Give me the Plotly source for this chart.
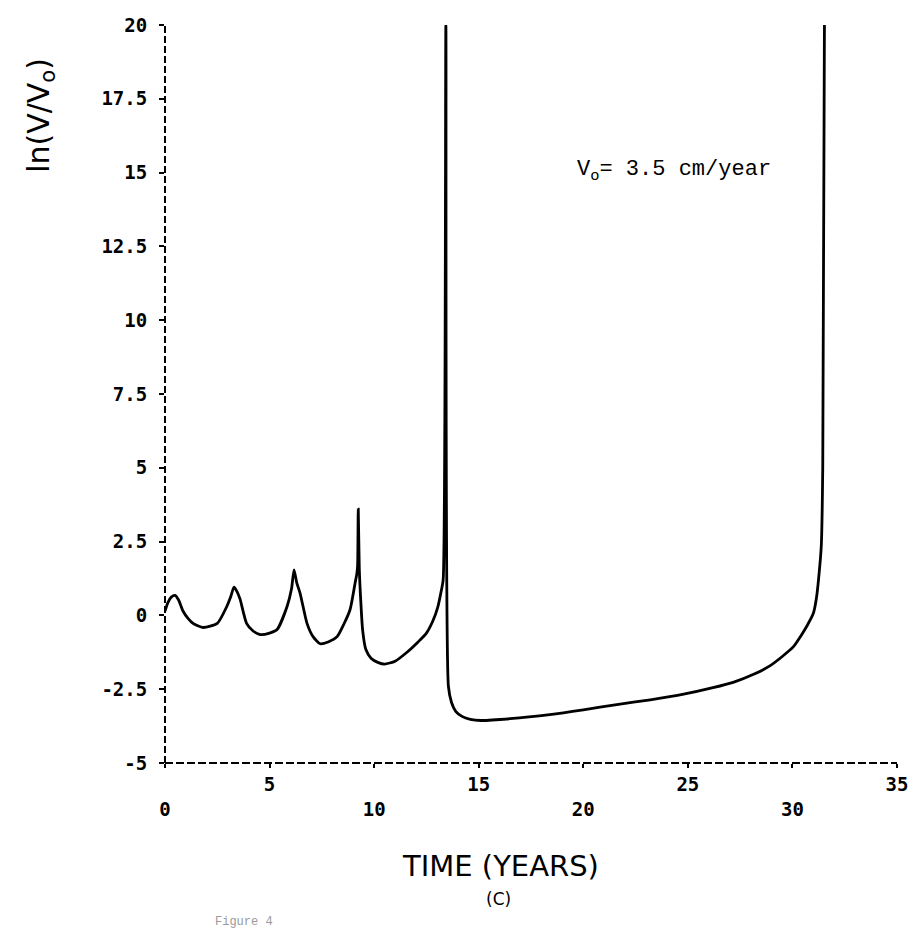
import plotly.graph_objects as go

# ---- data ----
time_years = [0, 0.15, 0.3, 0.48, 0.65, 0.86, 1.1, 1.34, 1.82, 2.5, 2.96, 3.15, 3.3, 3.45, 3.59, 3.9,
              4.2, 4.55, 5.0, 5.36, 5.84, 6.05, 6.17, 6.3, 6.46, 6.79, 7.08, 7.42, 7.8, 8.23, 8.55,
              8.85, 9.09, 9.17, 9.21, 9.24, 9.29, 9.36, 9.45, 9.6, 9.85, 10.2, 10.5, 11.0, 11.6,
              12.1, 12.5, 12.8, 13.05, 13.2, 13.3, 13.43, 13.55, 13.7, 13.9, 14.2, 14.6,
              15.1, 16.5, 18.4, 20.0, 21.6, 23.2, 24.8, 26.2, 27.2, 28.2, 28.9, 29.5, 30.05,
              30.38, 30.7, 31.0, 31.15, 31.25, 31.38, 31.45, 31.53]
ln_v_ratio = [0.15, 0.45, 0.62, 0.68, 0.52, 0.15, -0.1, -0.27, -0.41, -0.27, 0.31, 0.65, 0.96, 0.8,
              0.55, -0.27, -0.52, -0.65, -0.6, -0.48, 0.31, 0.9, 1.54, 1.1, 0.75, -0.27, -0.72,
              -0.96, -0.9, -0.72, -0.3, 0.2, 1.1, 1.4, 1.7, 3.6, 1.6, 0.5, -0.5, -1.15, -1.45, -1.6,
              -1.65, -1.55, -1.23, -0.9, -0.6, -0.2, 0.3, 0.8, 1.2, 20, -2.4, -2.95, -3.25,
              -3.42, -3.52, -3.56, -3.5, -3.36, -3.2, -3.02, -2.86, -2.67, -2.45, -2.26, -1.98,
              -1.72, -1.4, -1.06, -0.72, -0.35, 0.07, 0.6, 1.23, 2.36, 5.0, 20]

x_tick_vals = [0, 5, 10, 15, 20, 25, 30, 35]
x_tick_labels = ["0", "5", "10", "15", "20", "25", "30", "35"]
y_tick_vals = [20, 17.5, 15, 12.5, 10, 7.5, 5, 2.5, 0, -2.5, -5]
y_tick_labels = ["20", "17.5", "15", "12.5", "10", "7.5", "5", "2.5", "0", "-2.5", "-5"]

x_title = "TIME (YEARS)"
y_title = "ln(V/V<sub>o</sub>)"
panel_label = "(C)"
note_text = "V<sub>o</sub>= 3.5 cm/year"
caption_text = "Figure 4"

# staggered x tick labels: multiples of 10 on a second row
x_tick_text = [("<br>" + t) if (v % 10 == 0) else t for v, t in zip(x_tick_vals, x_tick_labels)]

tick_font = dict(family="DejaVu Sans Mono", size=19, color="black", weight="bold")

fig = go.Figure()
fig.add_trace(go.Scatter(
    x=time_years, y=ln_v_ratio, mode="lines",
    line=dict(color="black", width=2.8, shape="spline", smoothing=0.6),
    showlegend=False, hoverinfo="skip",
))

fig.update_layout(
    width=919, height=938,
    margin=dict(l=165, r=22, t=25, b=175),
    paper_bgcolor="white", plot_bgcolor="white",
    xaxis=dict(range=[0, 35], tickmode="array", tickvals=x_tick_vals, ticktext=x_tick_text,
               showgrid=False, zeroline=False, showline=False,
               ticks="outside", ticklen=4, tickwidth=1.5, tickcolor="black",
               tickfont=tick_font, ticklabelstandoff=0),
    yaxis=dict(range=[-5, 20], tickmode="array", tickvals=y_tick_vals, ticktext=y_tick_labels,
               showgrid=False, zeroline=False, showline=False,
               ticks="outside", ticklen=5, tickwidth=1.5, tickcolor="black",
               tickfont=tick_font, ticklabelstandoff=8),
    shapes=[
        dict(type="line", xref="x domain", yref="y domain", x0=0, x1=0, y0=0, y1=1,
             line=dict(color="black", width=2, dash="7px,3px")),
        dict(type="line", xref="x domain", yref="y domain", x0=0, x1=1, y0=0, y1=0,
             line=dict(color="black", width=2, dash="8px,3px")),
    ],
    annotations=[
        dict(text=y_title, xref="paper", yref="paper", x=-0.171, y=0.878,
             xanchor="center", yanchor="middle", textangle=-90, showarrow=False,
             font=dict(family="DejaVu Sans", size=30, color="black")),
        dict(text=x_title, xref="paper", yref="paper", x=0.458, y=-0.1396,
             xanchor="center", yanchor="middle", showarrow=False,
             font=dict(family="DejaVu Sans", size=29, color="black")),
        dict(text=panel_label, xref="paper", yref="paper", x=0.455, y=-0.184,
             xanchor="center", yanchor="middle", showarrow=False,
             font=dict(family="DejaVu Sans", size=17, color="black")),
        dict(text=note_text, xref="paper", yref="paper", x=0.56, y=0.802,
             xanchor="left", yanchor="middle", showarrow=False,
             font=dict(family="Liberation Mono", size=22, color="black")),
        dict(text=caption_text, xref="paper", yref="paper", x=0.0656, y=-0.203,
             xanchor="left", yanchor="top", showarrow=False,
             font=dict(family="Liberation Mono", size=12, color="#9a9a9a")),
    ],
)

fig.write_html("out.html")
